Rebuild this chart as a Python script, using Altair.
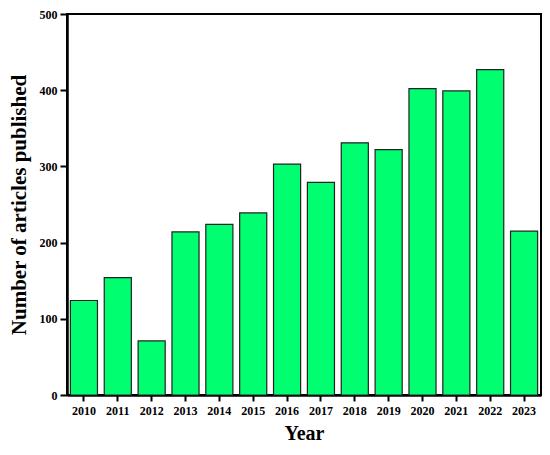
import altair as alt
import pandas as pd

years = ["2010", "2011", "2012", "2013", "2014", "2015", "2016",
         "2017", "2018", "2019", "2020", "2021", "2022", "2023"]
articles = [124, 154, 71, 214, 224, 239, 303, 279, 331, 322, 402, 399, 427, 215]

df = pd.DataFrame({"Year": years, "Articles": articles})

FONT = "Liberation Serif"

chart = alt.Chart(df).mark_bar(
    color="#00FF70", stroke="#222222", strokeWidth=1.2
).encode(
    x=alt.X("Year:N", sort=years,
            scale=alt.Scale(paddingInner=0.2),
            axis=alt.Axis(title="Year", labelAngle=0, labelFont=FONT,
                          labelFontWeight="bold", labelFontSize=12,
                          labelColor="black", titleFont=FONT,
                          titleFontWeight="bold", titleFontSize=20,
                          titleColor="black", titlePadding=7,
                          domainColor="black", domainWidth=2.5,
                          tickColor="black", tickWidth=2, tickSize=6,
                          labelPadding=4)),
    y=alt.Y("Articles:Q",
            scale=alt.Scale(domain=[0, 500], nice=False),
            axis=alt.Axis(title="Number of articles published",
                          values=[0, 100, 200, 300, 400, 500],
                          labelFont=FONT, labelFontWeight="bold",
                          labelFontSize=12, labelColor="black",
                          titleFont=FONT, titleFontWeight="bold",
                          titleFontSize=21, titleColor="black",
                          titlePadding=10, domainColor="black",
                          domainWidth=2.5, tickColor="black",
                          tickWidth=2, tickSize=7, labelPadding=3,
                          grid=False)),
).properties(
    width=474, height=381,
    autosize=alt.AutoSizeParams(type="none"),
    padding={"left": 59, "top": 6, "right": 1, "bottom": 52},
    background="white",
).configure_view(
    stroke="black", strokeWidth=2
)

chart.save("out.html", embed_options={"renderer": "svg", "actions": False})
